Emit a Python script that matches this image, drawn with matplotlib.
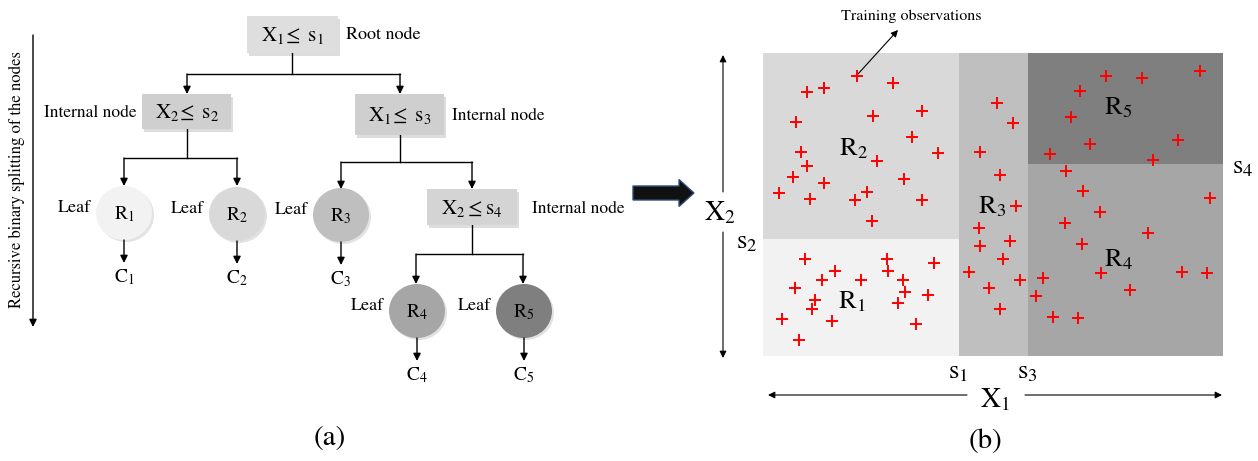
import numpy as np
import matplotlib
matplotlib.use('Agg')
from matplotlib import pyplot as plt
from matplotlib.patches import Rectangle, Ellipse, FancyArrow

plt.rcParams['font.family'] = 'STIXGeneral'
plt.rcParams['mathtext.fontset'] = 'stix'

# ---- panel (b) data: training observations (picture units) ----
obs_x = [857, 893, 807, 824, 796, 873, 922, 912, 801, 938, 877, 807, 793, 824, 904,
         779, 810, 855, 867, 922, 872,
         997, 1013, 980, 1000, 1016, 979, 1010, 980, 1003, 969, 1020, 989, 1000,
         1106, 1142, 1200, 1080, 1071, 1090, 1178, 1050, 1153,
         1066, 1083, 1210, 1100, 1065, 1148, 1082, 1043, 1036, 1053, 1078, 1101,
         1130, 1182, 1207,
         805, 835, 822, 795, 861, 887, 888, 903, 934, 905, 928, 898, 815, 812,
         782, 832, 916, 799]
obs_y = [76, 83, 92, 88, 122, 116, 111, 137, 152, 153, 161, 166, 177, 183, 179,
         193, 199, 200, 192, 200, 221,
         103, 123, 152, 175, 206, 228, 241, 246, 259, 272, 280, 288, 309,
         76, 78, 71, 91, 117, 144, 140, 154, 160,
         171, 191, 198, 212, 223, 233, 244, 278, 296, 317, 318, 273,
         290, 272, 273,
         259, 271, 280, 288, 280, 259, 271, 280, 263, 292, 295, 303, 300, 309,
         319, 321, 324, 340]

# split thresholds of the partition
x_left, s1, s3, x_right = 763, 959, 1028, 1223
y_top, s4, s2, y_bot = 53, 164, 239, 356

regions = ['R$_1$', 'R$_2$', 'R$_3$', 'R$_4$', 'R$_5$']
region_colors = ['#f2f2f2', '#d9d9d9', '#bfbfbf', '#a6a6a6', '#7f7f7f']
region_boxes = [(x_left, s2, s1, y_bot), (x_left, y_top, s1, s2), (s1, y_top, s3, y_bot),
                (s3, s4, x_right, y_bot), (s3, y_top, x_right, s4)]
region_label_pos = [(852, 302), (853, 149), (992, 207), (1118, 260), (1118, 108)]

# ---- panel (a) tree layout ----
split_nodes = [r'$\mathrm{X_1}\!\leq\ \mathrm{s_1}$', r'$\mathrm{X_2}\!\leq\ \mathrm{s_2}$',
               r'$\mathrm{X_1}\!\leq\ \mathrm{s_3}$', r'$\mathrm{X_2} \leq \mathrm{s_4}$']
split_boxes = [(247, 16, 338, 53), (142, 94, 231, 129), (355, 94, 444, 135), (427, 189, 517, 225)]
split_colors = ['#dedede', '#cfcfcf', '#cfcfcf', '#d4d4d4']
leaf_xy = [(124, 213), (237, 214), (341, 215), (417, 311), (524, 311)]
leaf_out = ['C$_1$', 'C$_2$', 'C$_3$', 'C$_4$', 'C$_5$']

fig = plt.figure(figsize=(12.58, 4.61), dpi=100)
ax = fig.add_axes([0, 0, 1, 1])
ax.set_xlim(0, 1258)
ax.set_ylim(461, 0)
ax.axis('off')


def arrow(x0, y0, x1, y1, ms=11, lw=1.0):
    ax.annotate('', xy=(x1, y1), xytext=(x0, y0),
                arrowprops=dict(arrowstyle='-|>', color='k', lw=lw, mutation_scale=ms,
                                shrinkA=0, shrinkB=0))


def branch(px, py, my, cx, cy):
    # parent down, horizontal bar, arrows down to children
    ax.plot([px, px], [py, my], color='k', lw=1)
    ax.plot([min(cx), max(cx)], [my, my], color='k', lw=1)
    for x in cx:
        arrow(x, my, x, cy)


# split boxes with a soft shadow
for (x0, y0, x1, y1), lab, col in zip(split_boxes, split_nodes, split_colors):
    ax.add_patch(Rectangle((x0 + 2, y0 + 3), x1 - x0, y1 - y0, fc='#a0a0a0', ec='none', alpha=0.35, zorder=2))
    ax.add_patch(Rectangle((x0, y0), x1 - x0, y1 - y0, fc=col, ec='none', zorder=3))
    ax.text((x0 + x1) / 2, (y0 + y1) / 2 + 1, lab, ha='center', va='center', fontsize=15, zorder=4)

ax.text(346, 35, 'Root node', ha='left', va='center', fontsize=13)
ax.text(136, 113, 'Internal node', ha='right', va='center', fontsize=12.5)
ax.text(452, 116, 'Internal node', ha='left', va='center', fontsize=12.5)
ax.text(532, 209, 'Internal node', ha='left', va='center', fontsize=12.5)

branch(292, 53, 74, [187, 400], 94)
branch(187, 129, 158, [124, 237], 186)
branch(400, 135, 162, [341, 472], 189)
branch(472, 225, 254, [416, 523], 284)

for (cx, cy), lab, col, out in zip(leaf_xy, regions, region_colors, leaf_out):
    ax.add_patch(Ellipse((cx + 2, cy + 2), 56, 54, fc='#a0a0a0', ec='none', alpha=0.3, zorder=2))
    ax.add_patch(Ellipse((cx, cy), 56, 54, fc=col, ec='none', zorder=3))
    ax.text(cx, cy + 1, lab, ha='center', va='center', fontsize=14, zorder=4)
    arrow(cx, cy + 27, cx, cy + 50)
    ax.text(cx, cy + 64, out, ha='center', va='center', fontsize=14)
    ax.text(cx - 33, cy - 5, 'Leaf', ha='right', va='center', fontsize=13)

# vertical process arrow
arrow(33, 35, 33, 327, ms=11)
ax.text(17, 180, 'Recursive binary splitting of the nodes', rotation=90,
        ha='center', va='center', fontsize=12)

ax.text(330, 438, '(a)', ha='center', va='center', fontsize=21)

# big arrow between panels
ax.add_patch(FancyArrow(633, 193, 61, 0, width=14, head_width=27, head_length=15,
                        length_includes_head=True, fc='#111111', ec='#2f4f7f', lw=1))

# ---- panel (b) ----
for (x0, y0, x1, y1), col in zip(region_boxes, region_colors):
    ax.add_patch(Rectangle((x0, y0), x1 - x0, y1 - y0, fc=col, ec='none', zorder=1))
for (x, y), lab in zip(region_label_pos, regions):
    ax.text(x, y, lab, ha='center', va='center', fontsize=19, zorder=3)

ax.plot(obs_x, obs_y, '+', color='#ff0000', ms=9, mew=1.4, zorder=4)

ax.text(911, 16, 'Training observations', ha='center', va='center', fontsize=11.5)
arrow(858, 74, 898, 30, ms=10, lw=0.8)

# axis arrows
arrow(723, 192, 723, 55, ms=10, lw=0.8)
arrow(723, 232, 723, 358, ms=10, lw=0.8)
ax.text(720, 213, 'X$_2$', ha='center', va='center', fontsize=20)
arrow(967, 395, 768, 395, ms=10, lw=0.8)
arrow(1025, 395, 1222, 395, ms=10, lw=0.8)
ax.text(995, 400, 'X$_1$', ha='center', va='center', fontsize=20)

ax.text(958, 372, 's$_1$', ha='center', va='center', fontsize=19)
ax.text(1027, 372, 's$_3$', ha='center', va='center', fontsize=19)
ax.text(747, 242, 's$_2$', ha='center', va='center', fontsize=19)
ax.text(1243, 167, 's$_4$', ha='center', va='center', fontsize=19)

ax.text(985, 441, '(b)', ha='center', va='center', fontsize=21)

fig.savefig('out.png', dpi=100)
